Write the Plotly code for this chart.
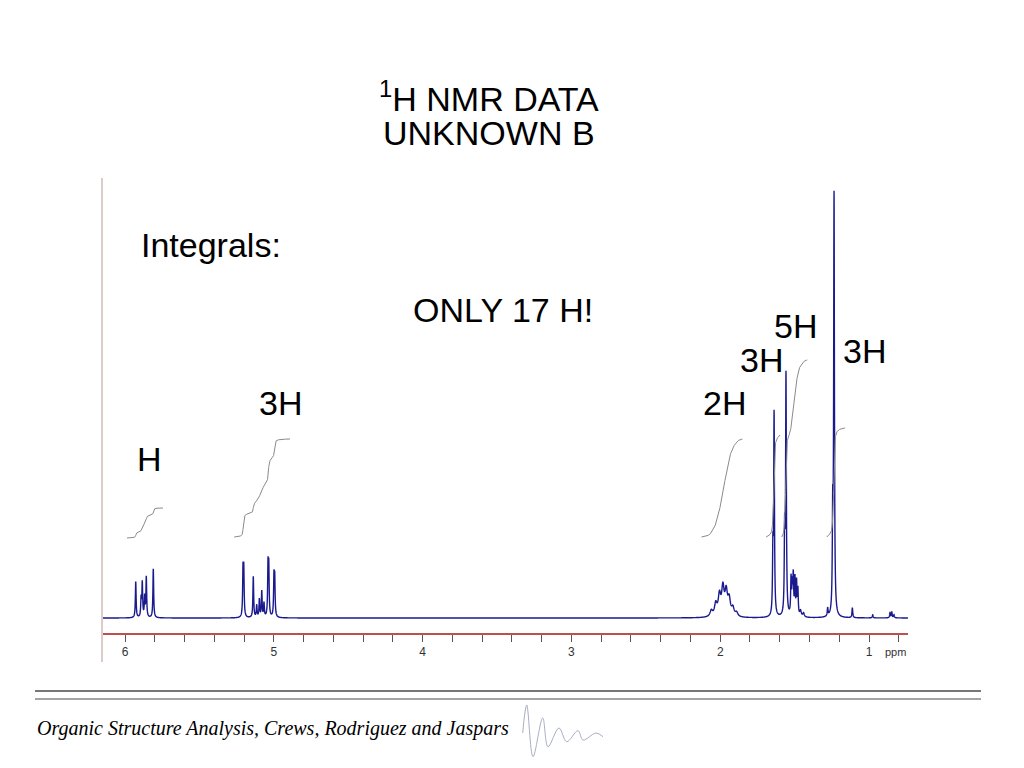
import numpy as np
import plotly.graph_objects as go

# ---------------- data ----------------
# peak list: chemical shift (ppm), apex height (arbitrary units), half width (ppm)
peak_ppm = [5.928, 5.892, 5.884, 5.868, 5.857, 5.810,
            5.207, 5.202, 5.138, 5.115, 5.097, 5.081, 5.066, 5.039, 5.034, 4.999, 4.994,
            2.060, 2.030, 2.005, 1.982, 1.960, 1.940, 1.915, 1.890,
            1.646, 1.638,
            1.567, 1.558, 1.524, 1.516, 1.509, 1.498, 1.487, 1.478, 1.460, 1.440,
            1.278, 1.244, 1.235, 1.112, 0.975, 0.859, 0.847, 0.832]
peak_height = [36, 18, 34, 20, 40, 49,
               44, 44, 41, 12, 18, 26, 14, 48, 46, 38, 36,
               6, 12, 20, 27, 23, 16, 8, 4,
               60, 200,
               80, 238, 36, 28, 38, 36, 33, 26, 6, 4,
               8, 90, 418, 10, 3, 5, 6, 3]
peak_hwhm = [0.003] * 17 + [0.010] * 8 + [0.003] * 2 + [0.003] * 8 + [0.006, 0.006] + [0.003] * 8

# integral regions: start ppm, end ppm, offset and rise of the drawn curve
integral_start = [5.987, 5.267, 2.126, 1.692, 1.587, 1.284]
integral_end = [5.745, 4.891, 1.851, 1.598, 1.415, 1.161]
integral_base = [80, 81, 81, 81, 81, 81]
integral_rise = [30, 98, 98, 102, 177, 109]
integral_label = ["H", "3H", "2H", "3H", "5H", "3H"]

tick_values = [6, 5, 4, 3, 2, 1]
tick_labels = ["6", "5", "4", "3", "2", "1"]

# small FID logo in the footer (pixel positions)
fid_x = [522.7, 526.7, 533.0, 542.7, 548.0, 559.0, 566.7, 578.0, 583.0, 596.0, 603.0]
fid_y = [733.0, 705.0, 756.7, 718.0, 746.7, 728.0, 741.7, 730.7, 740.0, 733.0, 736.7]

# ---------------- build spectrum ----------------
ppm = np.arange(6.148, 0.738, -0.0005)
spec = np.zeros_like(ppm)
for p, h, w in zip(peak_ppm, peak_height, peak_hwhm):
    spec += h * w ** 2 / ((ppm - p) ** 2 + w ** 2)

OFF = 8  # page body margin
W, H = 1024 - OFF, 768 - OFF


def px(x):
    return (x - OFF) / W


def py(y):
    return 1 - (y - OFF) / H


fig = go.Figure()

fig.add_trace(go.Scatter(x=ppm, y=spec, mode="lines",
                         line=dict(color="#1a1a8e", width=1.4, simplify=False),
                         hoverinfo="skip", showlegend=False))

for s, e, b, r in zip(integral_start, integral_end, integral_base, integral_rise):
    m = (ppm <= s) & (ppm >= e)
    cum = np.cumsum(spec[m])
    norm = (cum - cum[0]) / (cum[-1] - cum[0])
    fig.add_trace(go.Scatter(x=ppm[m], y=b + r * norm, mode="lines",
                             line=dict(color="#8a8a8a", width=1),
                             hoverinfo="skip", showlegend=False))

fig.add_trace(go.Scatter(x=fid_x, y=fid_y, mode="lines", xaxis="x2", yaxis="y2",
                         line=dict(color="#a9afc4", width=1, shape="spline"),
                         hoverinfo="skip", showlegend=False))

fig.update_layout(
    width=W, height=H,
    margin=dict(l=0, r=0, t=0, b=0),
    paper_bgcolor="white", plot_bgcolor="white",
    xaxis=dict(domain=[px(103), px(908)], range=[6.148, 0.738],
               showgrid=False, zeroline=False,
               showline=True, linecolor="#c0504d", linewidth=1.5,
               ticks="outside", ticklen=7, tickcolor="#555555", tickwidth=1,
               tickvals=tick_values, ticktext=tick_labels,
               tickfont=dict(family="Liberation Sans, Arial", size=12, color="#333333"),
               minor=dict(dtick=0.2, tick0=0, ticks="outside", ticklen=7,
                          tickcolor="#555555", tickwidth=1, showgrid=False)),
    yaxis=dict(domain=[py(633), py(178)], range=[-15, 440], visible=False,
               showgrid=False, zeroline=False),
    xaxis2=dict(domain=[px(515), px(610)], range=[515, 610], visible=False,
                anchor="y2"),
    yaxis2=dict(domain=[py(765), py(700)], range=[765, 700], visible=False,
                anchor="x2"),
)

shapes = [
    dict(type="line", xref="paper", yref="paper", x0=px(102), x1=px(102),
         y0=py(178), y1=py(662), line=dict(color="#b49a94", width=1)),
    dict(type="line", xref="paper", yref="paper", x0=px(35), x1=px(981),
         y0=py(691), y1=py(691), line=dict(color="#4a4a4a", width=1.5)),
    dict(type="line", xref="paper", yref="paper", x0=px(35), x1=px(981),
         y0=py(699), y1=py(699), line=dict(color="#4a4a4a", width=1.2)),
]
fig.update_layout(shapes=shapes)

big = dict(family="Liberation Sans, Arial", size=34, color="black")


def ann(text, x, y, font, xanchor="center"):
    fig.add_annotation(text=text, x=px(x), y=py(y), xref="paper", yref="paper",
                       showarrow=False, xanchor=xanchor, yanchor="middle", font=font)


ann("<sup>1</sup>H NMR DATA", 489, 97, big)
ann("UNKNOWN B", 489, 133, big)
ann("Integrals:", 139, 245, big, xanchor="left")
ann("ONLY 17 H!", 411, 310, big, xanchor="left")

label_pos = [(149, 459), (280, 403), (724, 403), (761, 360), (795, 326), (864, 351)]
for lab, (lx, ly) in zip(integral_label, label_pos):
    ann(lab, lx, ly, big)

ann("ppm", 895, 652, dict(family="Liberation Sans, Arial", size=11, color="#333333"))
ann("Organic Structure Analysis, Crews, Rodriguez and Jaspars", 35, 728,
    dict(family="Liberation Serif, Times New Roman", size=20, color="black", style="italic"),
    xanchor="left")

fig.write_html("out.html")
